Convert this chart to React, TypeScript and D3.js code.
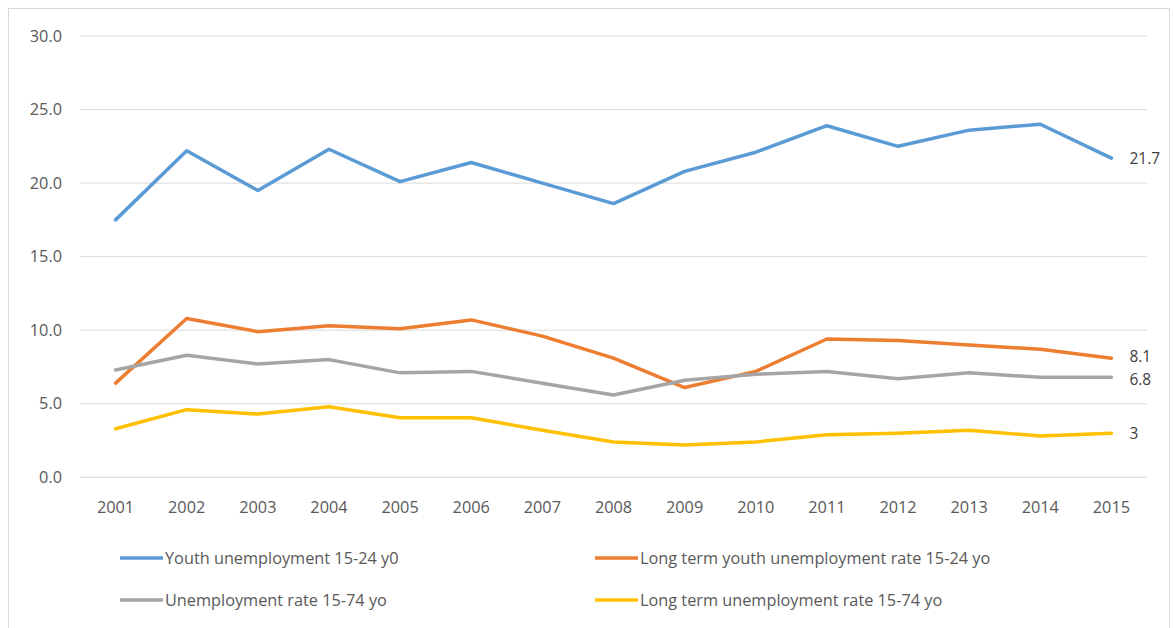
import React from "react";
import * as d3 from "d3";

const years = ["2001","2002","2003","2004","2005","2006","2007","2008","2009","2010","2011","2012","2013","2014","2015"];
const youth = [17.5,22.2,19.5,22.3,20.1,21.4,20.0,18.6,20.8,22.1,23.9,22.5,23.6,24.0,21.7];
const longYouth = [6.4,10.8,9.9,10.3,10.1,10.7,9.6,8.1,6.1,7.2,9.4,9.3,9.0,8.7,8.1];
const unemp = [7.3,8.3,7.7,8.0,7.1,7.2,6.4,5.6,6.6,7.0,7.2,6.7,7.1,6.8,6.8];
const longUnemp = [3.3,4.6,4.3,4.8,4.05,4.05,3.2,2.4,2.2,2.4,2.9,3.0,3.2,2.8,3.0];
const yTicks = [0,5,10,15,20,25,30];
const endLabels = ["21.7","8.1","6.8","3"];

const seriesNames = [
  "Youth unemployment 15-24 y0",
  "Long term youth unemployment rate 15-24 yo",
  "Unemployment rate 15-74 yo",
  "Long term unemployment rate 15-74 yo",
];
const seriesValues = [youth, longYouth, unemp, longUnemp];
const colors = ["#5B9BD5", "#ED7D31", "#A5A5A5", "#FFC000"];

const W = 1174, H = 628;
const font = "'Open Sans', sans-serif";
const textColor = "#595959";

export default function App() {
  const x = d3.scaleBand<string>().domain(years).range([80, 1147]);
  const y = d3.scaleLinear().domain([0, 30]).range([477.3, 36]);
  const line = d3.line<number>()
    .x((_, i) => (x(years[i]) as number) + x.bandwidth() / 2)
    .y((d) => y(d));

  const legendPos = [
    { lx: 120, ly: 558 },
    { lx: 595, ly: 558 },
    { lx: 120, ly: 600 },
    { lx: 595, ly: 600 },
  ];
  const endDy = [0, -2, 2, 0];

  return (
    <svg width={W} height={H} style={{ position: "absolute", left: 0, top: 0 }}>
      <rect x={0} y={0} width={W} height={H} fill="#fff" />
      <rect x={8.5} y={8.5} width={1161} height={640} fill="#fff" stroke="#D9D9D9" strokeWidth={1} />
      {yTicks.map((t) => (
        <g key={t}>
          <line x1={80} x2={1147} y1={y(t)} y2={y(t)} stroke="#D9D9D9" strokeWidth={1} />
          <text x={62} y={y(t)} dy="0.35em" textAnchor="end" fontFamily={font} fontSize={16.3} fill={textColor}>
            {t.toFixed(1)}
          </text>
        </g>
      ))}
      {years.map((yr) => (
        <text key={yr} x={(x(yr) as number) + x.bandwidth() / 2} y={507} dy="0.35em" textAnchor="middle"
          fontFamily={font} fontSize={16.3} fill={textColor}>{yr}</text>
      ))}
      {seriesValues.map((vals, i) => (
        <path key={i} d={line(vals) as string} fill="none" stroke={colors[i]} strokeWidth={3.5}
          strokeLinejoin="round" strokeLinecap="round" />
      ))}
      {seriesValues.map((vals, i) => (
        <text key={"e" + i} x={(x(years[14]) as number) + x.bandwidth() / 2 + 18}
          y={y(vals[14]) + endDy[i]} dy="0.35em" fontFamily={font} fontSize={15.5} fill="#404040">
          {endLabels[i]}
        </text>
      ))}
      {seriesNames.map((n, i) => (
        <g key={n}>
          <line x1={legendPos[i].lx} x2={legendPos[i].lx + 43} y1={legendPos[i].ly} y2={legendPos[i].ly}
            stroke={colors[i]} strokeWidth={3.5} />
          <text x={legendPos[i].lx + 45} y={legendPos[i].ly} dy="0.35em" fontFamily={font} fontSize={16.3} fill={textColor}>
            {n}
          </text>
        </g>
      ))}
    </svg>
  );
}
